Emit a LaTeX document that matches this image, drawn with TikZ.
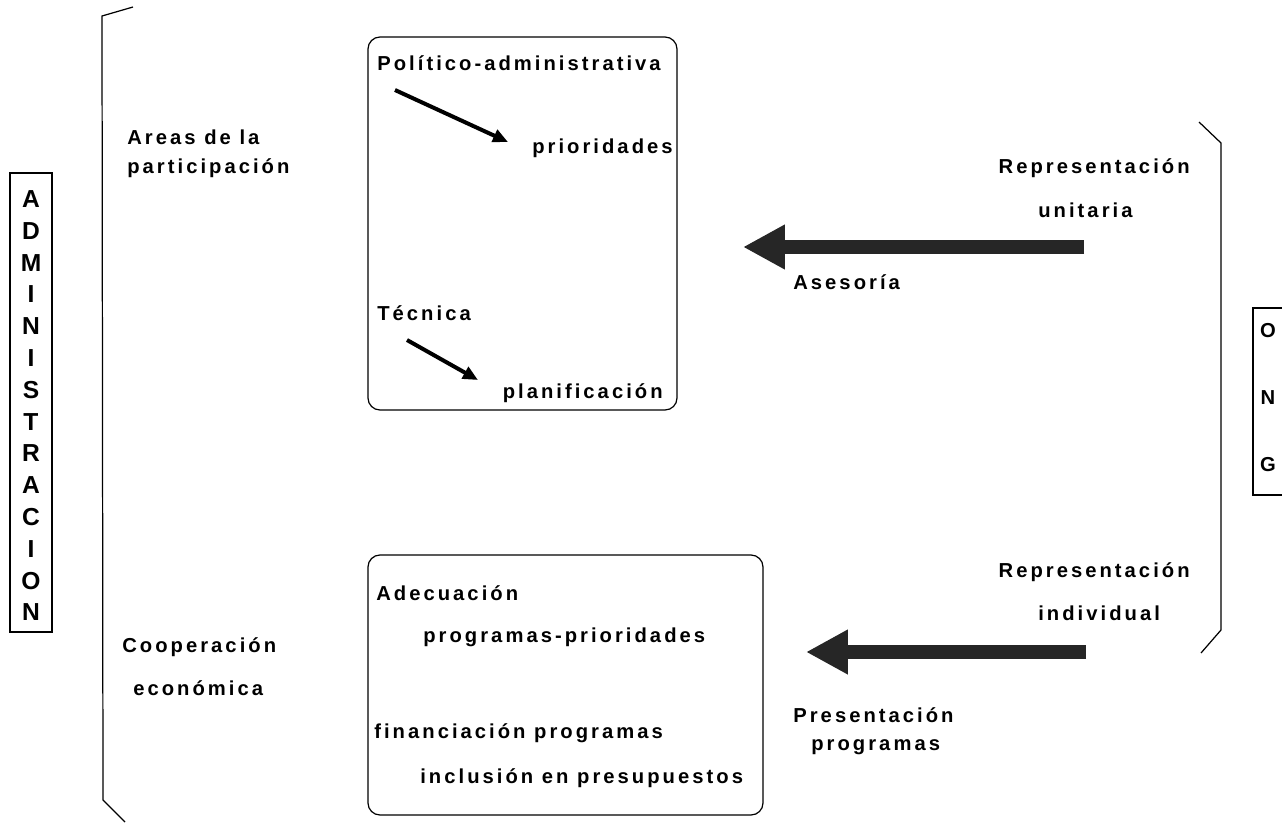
\documentclass[tikz,border=0pt]{standalone}
\usepackage{fontspec}
\setmainfont[LetterSpace=15]{Liberation Sans}
\usetikzlibrary{arrows.meta}
\tikzset{
	lbl/.style={font=\bfseries\fontsize{11.5}{13}\selectfont, inner sep=0pt},
	bigletter/.style={font=\bfseries\fontsize{14}{16}\selectfont, inner sep=0pt},
	thinline/.style={line width=0.7pt},
}
\newcommand{\bigarrow}[4] % name, tail x, tip x, y
{
	\coordinate (#1tail) at (#2,#4);
	\coordinate (#1tip) at (#3,#4);
	\draw[line width=0.29cm, draw=black!85, -{Triangle[length=0.84cm,width=0.84cm]}] (#1tail) -- (#1tip);
}
\newcommand{\smallarrow}[5] % name, x1, y1, x2, y2
{
	\coordinate (#1from) at (#2,#3);
	\coordinate (#1to) at (#4,#5);
	\draw[line width=0.08cm, -{Triangle[length=0.3cm,width=0.26cm]}] (#1from) -- (#1to);
}

\begin{document}
\begin{tikzpicture}[x=0.02cm, y=-0.02cm]
	% page: 1282 x 822, y downwards
	\useasboundingbox (0,0) rectangle (1282,822);

	% left box, vertical letters
	\draw[thinline] (10,173) rectangle (52,632);
	\foreach \l [count=\i from 0] in {A,D,M,I,N,I,S,T,R,A,C,I,O,N}
		\node[bigletter] (adm\i) at (31,{199+31.8*\i}) {\l};

	% left bracket
	\draw[thinline] (133,7) -- (102,16) -- (103,800) -- (125,822);

	\node[lbl, anchor=west] (areas) at (127,137) {Areas de la};
	\node[lbl, anchor=west] (particip) at (127,168) {participación};
	\node[lbl, anchor=west] (coop) at (122,647) {Cooperación};
	\node[lbl, anchor=west] (econ) at (133,688) {económica};

	% upper box
	\draw[thinline, rounded corners=0.24cm] (368,37) rectangle (677,410);
	\node[lbl, anchor=west] (polit) at (377,63) {Político-administrativa};
	\node[lbl, anchor=east] (prio) at (673,148) {prioridades};
	\node[lbl, anchor=west] (tecn) at (377,313) {Técnica};
	\node[lbl, anchor=east] (plan) at (663,393) {planificación};
	\smallarrow{pol}{395}{90}{508}{142};
	\smallarrow{tec}{407}{340}{478}{380};

	% lower box
	\draw[thinline, rounded corners=0.24cm] (368,555) rectangle (763,815);
	\node[lbl, anchor=west] (adec) at (376,593) {Adecuación};
	\node[lbl, anchor=west] (progprio) at (423,637) {programas-prioridades};
	\node[lbl, anchor=west] (finan) at (374,733) {financiación programas};
	\node[lbl, anchor=west] (inclu) at (420,778) {inclusión en presupuestos};

	% right side
	\node[lbl, anchor=east] (repu) at (1190,168) {Representación};
	\node[lbl, anchor=west] (unit) at (1038,210) {unitaria};
	\bigarrow{ases}{1084}{743}{247};
	\node[lbl, anchor=west] (ases) at (793,282) {Asesoría};

	\node[lbl, anchor=east] (repi) at (1190,572) {Representación};
	\node[lbl, anchor=west] (indiv) at (1038,613) {individual};
	\bigarrow{pres}{1086}{806}{652};
	\node[lbl, anchor=west] (pres) at (793,715) {Presentación};
	\node[lbl, anchor=west] (progr) at (811,747) {programas};

	% right bracket
	\draw[thinline] (1199,122) -- (1221,143) -- (1221,630) -- (1201,653);

	% ONG box, cut at the page edge
	\draw[thinline] (1282,308) -- (1253,308) -- (1253,495) -- (1282,495);
	\node[lbl] (ongo) at (1268,331) {O};
	\node[lbl] (ongn) at (1268,398) {N};
	\node[lbl] (ongg) at (1268,465) {G};
\end{tikzpicture}
\end{document}
